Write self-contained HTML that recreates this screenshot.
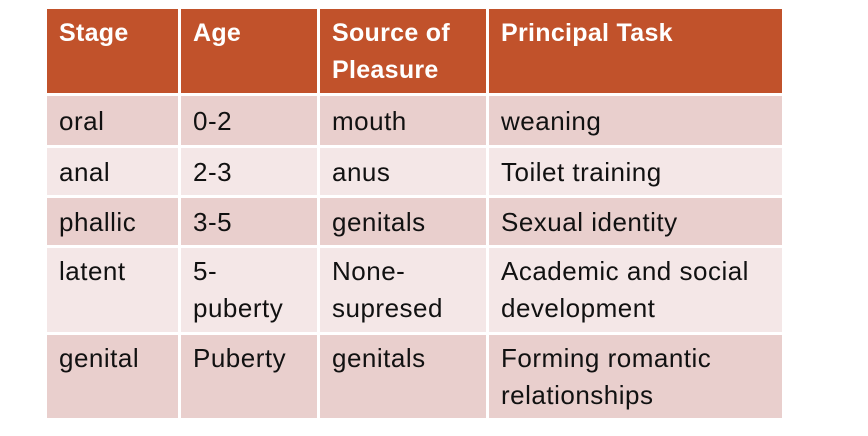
<!DOCTYPE html>
<html><head><style>
body{margin:0;width:868px;height:436px;background:#fff;position:relative;overflow:hidden;font-family:"Liberation Sans",sans-serif;}
.c{position:absolute;box-sizing:border-box;padding:4px 0 0 12px;font-size:26px;line-height:37px;color:#111;letter-spacing:0.5px;}
.h{background:#C1522B;color:#fff;font-weight:bold;letter-spacing:0.3px;font-size:25px;}
.d{background:#E9CFCD;}
.l{background:#F4E7E7;}
</style></head><body>
<div class="c h" style="left:47px;top:9px;width:131px;height:84px;padding-top:6px">Stage</div>
<div class="c h" style="left:181px;top:9px;width:136px;height:84px;padding-top:6px">Age</div>
<div class="c h" style="left:320px;top:9px;width:166px;height:84px;padding-top:6px">Source of<br>Pleasure</div>
<div class="c h" style="left:489px;top:9px;width:293px;height:84px;padding-top:6px">Principal Task</div>

<div class="c d" style="left:47px;top:96px;width:131px;height:49px;padding-top:7px">oral</div>
<div class="c d" style="left:181px;top:96px;width:136px;height:49px;padding-top:7px">0-2</div>
<div class="c d" style="left:320px;top:96px;width:166px;height:49px;padding-top:7px">mouth</div>
<div class="c d" style="left:489px;top:96px;width:293px;height:49px;padding-top:7px">weaning</div>

<div class="c l" style="left:47px;top:148px;width:131px;height:47px;padding-top:6px">anal</div>
<div class="c l" style="left:181px;top:148px;width:136px;height:47px;padding-top:6px">2-3</div>
<div class="c l" style="left:320px;top:148px;width:166px;height:47px;padding-top:6px">anus</div>
<div class="c l" style="left:489px;top:148px;width:293px;height:47px;padding-top:6px">Toilet training</div>

<div class="c d" style="left:47px;top:198px;width:131px;height:47px;padding-top:6px">phallic</div>
<div class="c d" style="left:181px;top:198px;width:136px;height:47px;padding-top:6px">3-5</div>
<div class="c d" style="left:320px;top:198px;width:166px;height:47px;padding-top:6px">genitals</div>
<div class="c d" style="left:489px;top:198px;width:293px;height:47px;padding-top:6px">Sexual identity</div>

<div class="c l" style="left:47px;top:248px;width:131px;height:84px;padding-top:5px">latent</div>
<div class="c l" style="left:181px;top:248px;width:136px;height:84px;padding-top:5px">5-<br>puberty</div>
<div class="c l" style="left:320px;top:248px;width:166px;height:84px;padding-top:5px">None-<br>supresed</div>
<div class="c l" style="left:489px;top:248px;width:293px;height:84px;padding-top:5px">Academic and social<br>development</div>

<div class="c d" style="left:47px;top:335px;width:131px;height:83px;padding-top:5px">genital</div>
<div class="c d" style="left:181px;top:335px;width:136px;height:83px;padding-top:5px">Puberty</div>
<div class="c d" style="left:320px;top:335px;width:166px;height:83px;padding-top:5px">genitals</div>
<div class="c d" style="left:489px;top:335px;width:293px;height:83px;padding-top:5px">Forming romantic<br>relationships</div>
</body></html>
